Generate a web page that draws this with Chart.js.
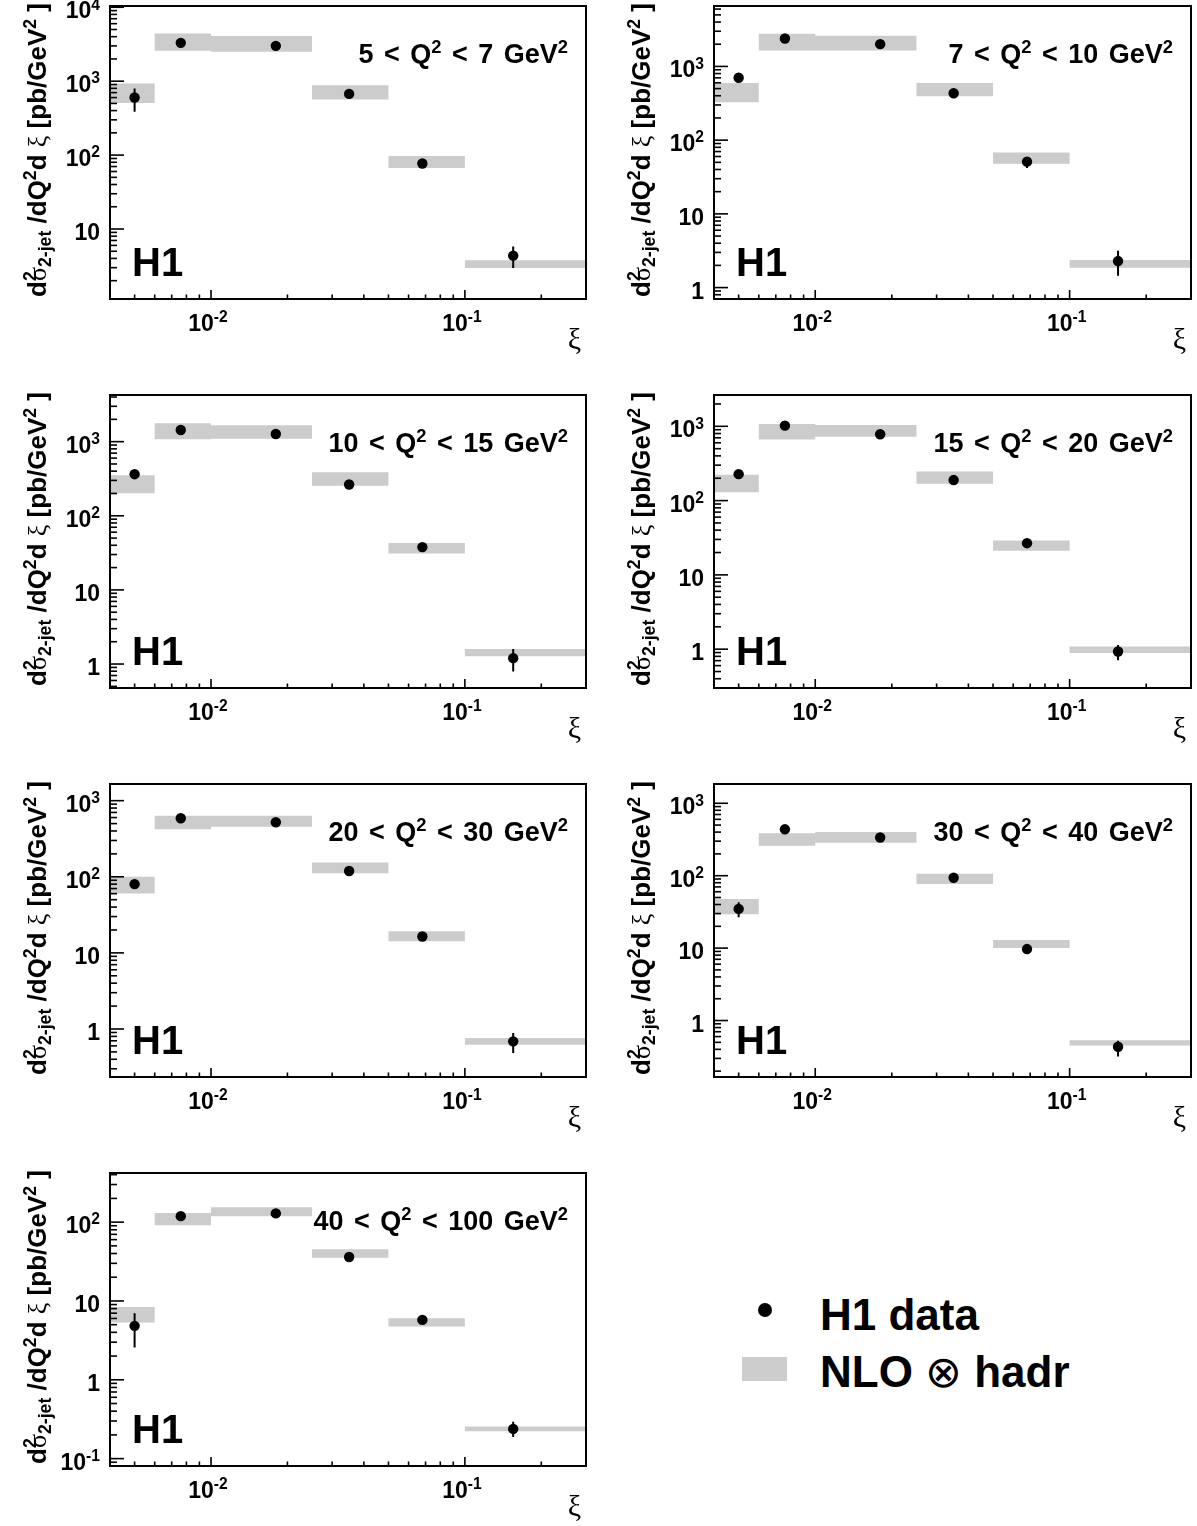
<!DOCTYPE html>
<html>
<head>
<meta charset="utf-8">
<script src="https://cdn.jsdelivr.net/npm/chart.js@4.4.1/dist/chart.umd.min.js"></script>
<style>
html,body{margin:0;padding:0;background:#fff;overflow:hidden;width:1197px;height:1526px;}
canvas{position:absolute;}
.lg{position:absolute;font:bold 44px "Liberation Sans",Arial,sans-serif;line-height:44px;white-space:nowrap;color:#000;}
.sym{font-family:"DejaVu Sans","Liberation Sans",sans-serif;font-weight:normal;}
</style>
</head>
<body>
<div id="legendDot" style="position:absolute;left:758px;top:1303px;width:14px;height:14px;border-radius:50%;background:#000;"></div>
<div class="lg" style="left:820px;top:1293px;">H1 data</div>
<div id="legendBox" style="position:absolute;left:742px;top:1357px;width:45px;height:24px;background:#cccccc;"></div>
<div class="lg" style="left:820px;top:1350px;">NLO <span class="sym">⊗</span> hadr</div>
<script>
// ---------------- data ----------------
const binEdges = [0.004, 0.006, 0.01, 0.025, 0.05, 0.1, 0.3];
const xiPoints = [0.005, 0.0076, 0.018, 0.035, 0.068, 0.155];
const q2Low  = [5, 7, 10, 15, 20, 30, 40];
const q2High = [7, 10, 15, 20, 30, 40, 100];
const yMin = [1.13, 0.726, 0.475, 0.33, 0.234, 0.166, 0.0806];
const yMax = [10400, 6600, 4260, 2640, 1656, 1846, 420];
const xMin = 0.004, xMax = 0.3;

// 5 < Q2 < 7
const h1_5_7    = [601, 3300, 3006, 673, 77, 4.36];
const h1Lo_5_7  = [385, 3000, 2750, 610, 70, 2.96];
const h1Hi_5_7  = [796, 3600, 3280, 740, 85, 5.8];
const nloLo_5_7 = [508, 2576, 2494, 565, 67, 2.96];
const nloHi_5_7 = [931, 4430, 4075, 883, 97, 3.77];
// 7 < Q2 < 10
const h1_7_10    = [703, 2390, 2005, 432, 51, 2.29];
const h1Lo_7_10  = [640, 2200, 1850, 400, 42, 1.45];
const h1Hi_7_10  = [770, 2590, 2170, 470, 58, 3.16];
const nloLo_7_10 = [327, 1644, 1644, 394, 48, 1.86];
const nloHi_7_10 = [597, 2767, 2600, 597, 68, 2.37];
// 10 < Q2 < 15
const h1_10_15    = [364, 1437, 1270, 264, 37.8, 1.2];
const h1Lo_10_15  = [330, 1330, 1170, 240, 33, 0.79];
const h1Hi_10_15  = [400, 1550, 1370, 290, 43, 1.59];
const nloLo_10_15 = [202, 1077, 1097, 255, 31, 1.27];
const nloHi_10_15 = [353, 1770, 1663, 386, 42.8, 1.59];
// 15 < Q2 < 20
const h1_15_20    = [227, 1021, 783, 189, 26.7, 0.93];
const h1Lo_15_20  = [200, 940, 720, 172, 23, 0.71];
const h1Hi_15_20  = [256, 1100, 850, 206, 30.5, 1.14];
const nloLo_15_20 = [130, 665, 723, 169, 21.1, 0.885];
const nloHi_15_20 = [223, 1075, 1043, 247, 29, 1.09];
// 20 < Q2 < 30
const h1_20_30    = [80, 588, 520, 119, 16.4, 0.688];
const h1Lo_20_30  = [70, 545, 480, 110, 15, 0.484];
const h1Hi_20_30  = [92, 632, 560, 128, 18, 0.885];
const nloLo_20_30 = [60.5, 422, 456, 111, 14.2, 0.622];
const nloHi_20_30 = [100, 635, 635, 154.6, 19.2, 0.762];
// 30 < Q2 < 40
const h1_30_40    = [34.8, 437, 337, 93.8, 9.7, 0.434];
const h1Lo_30_40  = [26.6, 400, 310, 86, 8.8, 0.319];
const h1Hi_30_40  = [42.9, 475, 365, 102, 10.6, 0.525];
const nloLo_30_40 = [29.3, 260, 285, 76.9, 10, 0.452];
const nloHi_30_40 = [47.8, 385, 400, 106.6, 12.9, 0.536];
// 40 < Q2 < 100
const h1_40_100    = [4.83, 119, 129, 36.1, 5.75, 0.238];
const h1Lo_40_100  = [2.56, 110, 120, 33, 5.2, 0.188];
const h1Hi_40_100  = [6.98, 128, 138, 39.5, 6.3, 0.294];
const nloLo_40_100 = [5.32, 91.6, 119, 35.4, 4.73, 0.222];
const nloHi_40_100 = [8.4, 131, 155, 45.2, 6.04, 0.255];

const h1Vals  = [h1_5_7, h1_7_10, h1_10_15, h1_15_20, h1_20_30, h1_30_40, h1_40_100];
const h1Los   = [h1Lo_5_7, h1Lo_7_10, h1Lo_10_15, h1Lo_15_20, h1Lo_20_30, h1Lo_30_40, h1Lo_40_100];
const h1His   = [h1Hi_5_7, h1Hi_7_10, h1Hi_10_15, h1Hi_15_20, h1Hi_20_30, h1Hi_30_40, h1Hi_40_100];
const nloLos  = [nloLo_5_7, nloLo_7_10, nloLo_10_15, nloLo_15_20, nloLo_20_30, nloLo_30_40, nloLo_40_100];
const nloHis  = [nloHi_5_7, nloHi_7_10, nloHi_10_15, nloHi_15_20, nloHi_20_30, nloHi_30_40, nloHi_40_100];

// ---------------- layout / style ----------------
const ROW_TOP = [6, 395, 784, 1173];
const PLOT_H = 293;
const COL_BASE = [0, 600], COL_W = [600, 597];
const COL_LEFT = [110, 714], COL_RIGHT = [586, 1191];
const GRAY = '#cccccc';
const FONT = '"Liberation Sans", Arial, Helvetica, sans-serif';
const GFONT = '"Liberation Serif", "DejaVu Serif", serif';
const TICK_FS = 23, TITLE_FS = 26, LABEL_FS = 27;

function partFont(p, size) {
  const s = (p.sup || p.sub) ? size * 0.68 : size;
  return (p.greek ? '' : 'bold ') + s.toFixed(2) + 'px ' + (p.greek ? GFONT : FONT);
}
function drawRich(ctx, parts, x, y, size, align) {
  const items = []; let w = 0;
  for (const p of parts) {
    const f = partFont(p, size);
    ctx.font = f;
    const pw = ctx.measureText(p.t).width;
    const dy = p.sup ? -size * 0.38 : (p.sub ? size * 0.2 : 0);
    items.push({t: p.t, f, x: w, dy});
    if (!p.noadv) w += pw;
  }
  const x0 = align === 'right' ? x - w : (align === 'center' ? x - w / 2 : x);
  ctx.textAlign = 'left';
  ctx.textBaseline = 'alphabetic';
  for (const it of items) { ctx.font = it.f; ctx.fillText(it.t, x0 + it.x, y + it.dy); }
}
function expParts(e) {
  if (e === 0) return [{t: '1'}];
  if (e === 1) return [{t: '10'}];
  return [{t: '10'}, {t: String(e), sup: 1}];
}
const titleParts = [
  {t: 'd'}, {t: '2', sup: 1, noadv: 1}, {t: 'σ', greek: 1}, {t: '2-jet', sub: 1},
  {t: ' /dQ'}, {t: '2', sup: 1}, {t: 'd '}, {t: 'ξ', greek: 1},
  {t: ' [pb/GeV'}, {t: '2', sup: 1}, {t: ' ]'}
];

function axesPlugin(i) {
  return {
    id: 'rootAxes' + i,
    afterDraw(chart) {
      const ctx = chart.ctx, ca = chart.chartArea;
      const xs = chart.scales.x, ys = chart.scales.y;
      ctx.save();
      ctx.fillStyle = '#000';
      ctx.strokeStyle = '#000';
      // frame
      ctx.lineWidth = 2;
      ctx.strokeRect(ca.left, ca.top, ca.right - ca.left, ca.bottom - ca.top);
      // y ticks + labels
      ctx.lineWidth = 1.6;
      const e0 = Math.floor(Math.log10(ys.min)), e1 = Math.ceil(Math.log10(ys.max));
      for (let e = e0; e <= e1; e++) {
        for (let m = 1; m <= 9; m++) {
          const v = m * Math.pow(10, e);
          if (v < ys.min || v > ys.max) continue;
          const py = ys.getPixelForValue(v);
          const len = m === 1 ? 14 : 7;
          ctx.beginPath(); ctx.moveTo(ca.left, py); ctx.lineTo(ca.left + len, py); ctx.stroke();
          if (m === 1) drawRich(ctx, expParts(e), ca.left - 10, py + 11, TICK_FS, 'right');
        }
      }
      // x ticks + labels
      const f0 = Math.floor(Math.log10(xs.min)), f1 = Math.ceil(Math.log10(xs.max));
      for (let e = f0; e <= f1; e++) {
        for (let m = 1; m <= 9; m++) {
          const v = m * Math.pow(10, e);
          if (v < xs.min * 0.999 || v > xs.max * 1.001) continue;
          const px = xs.getPixelForValue(v);
          const len = m === 1 ? 9 : 4.5;
          ctx.beginPath(); ctx.moveTo(px, ca.bottom); ctx.lineTo(px, ca.bottom - len); ctx.stroke();
          if (m === 1) drawRich(ctx, expParts(e), px - 3, ca.bottom + 32, TICK_FS, 'center');
        }
      }
      // x title
      ctx.font = '30px ' + GFONT;
      ctx.textAlign = 'right';
      ctx.fillText('ξ', ca.right - 5, ca.bottom + 50);
      // y title
      ctx.save();
      ctx.translate(ca.left - 64, ca.top - 3);
      ctx.rotate(-Math.PI / 2);
      drawRich(ctx, titleParts, 0, 0, TITLE_FS, 'right');
      ctx.restore();
      // H1 label
      ctx.font = 'bold 40px ' + FONT;
      ctx.textAlign = 'left';
      ctx.fillText('H1', ca.left + 22, ca.bottom - 23);
      // Q2 range label
      const lab = [
        {t: q2Low[i] + ' < Q'}, {t: '2', sup: 1},
        {t: ' < ' + q2High[i] + ' GeV'}, {t: '2', sup: 1}
      ];
      if ('wordSpacing' in ctx) ctx.wordSpacing = '3px';
      drawRich(ctx, lab, ca.right - 18, ca.top + 57, LABEL_FS, 'right');
      if ('wordSpacing' in ctx) ctx.wordSpacing = '0px';
      ctx.restore();
    }
  };
}

function makePanel(i) {
  const col = i % 2, row = Math.floor(i / 2);
  const base = COL_BASE[col], W = COL_W[col];
  const plotT = ROW_TOP[row];
  const top = plotT - 6;
  const H = Math.min(389, 1526 - top);
  const cv = document.createElement('canvas');
  cv.width = W; cv.height = H;
  cv.style.left = base + 'px'; cv.style.top = top + 'px';
  cv.style.width = W + 'px'; cv.style.height = H + 'px';
  document.body.appendChild(cv);

  const nlo = nloHis[i], nlol = nloLos[i];
  const upper = binEdges.map((x, k) => ({x, y: nlo[Math.min(k, nlo.length - 1)]}));
  const lower = binEdges.map((x, k) => ({x, y: nlol[Math.min(k, nlol.length - 1)]}));
  const errs = [];
  xiPoints.forEach((x, k) => {
    errs.push({x, y: h1Los[i][k]}, {x, y: h1His[i][k]}, {x, y: null});
  });
  const pts = xiPoints.map((x, k) => ({x, y: h1Vals[i][k]}));

  new Chart(cv, {
    type: 'scatter',
    data: {
      datasets: [
        {type: 'line', label: 'NLO hi', data: upper, stepped: true, fill: '+1',
         backgroundColor: GRAY, borderColor: 'rgba(0,0,0,0)', borderWidth: 0, pointRadius: 0, order: 5},
        {type: 'line', label: 'NLO lo', data: lower, stepped: true, fill: false,
         backgroundColor: GRAY, borderColor: 'rgba(0,0,0,0)', borderWidth: 0, pointRadius: 0, order: 5},
        {type: 'line', label: 'err', data: errs, spanGaps: false, fill: false,
         borderColor: '#000', borderWidth: 2, pointRadius: 0, order: 1},
        {type: 'scatter', label: 'H1 data', data: pts, pointRadius: 5.2, pointHoverRadius: 5.2,
         pointBackgroundColor: '#000', pointBorderColor: '#000', pointBorderWidth: 0, order: 0}
      ]
    },
    options: {
      responsive: false, animation: false, events: [],
      layout: {padding: {left: COL_LEFT[col] - base, right: base + W - COL_RIGHT[col],
                         top: 6, bottom: H - 6 - PLOT_H}},
      scales: {
        x: {type: 'logarithmic', min: xMin, max: xMax, display: false},
        y: {type: 'logarithmic', min: yMin[i], max: yMax[i], display: false}
      },
      plugins: {legend: {display: false}, tooltip: {enabled: false}}
    },
    plugins: [axesPlugin(i)]
  });
}
for (let i = 0; i < 7; i++) makePanel(i);
</script>
</body>
</html>
